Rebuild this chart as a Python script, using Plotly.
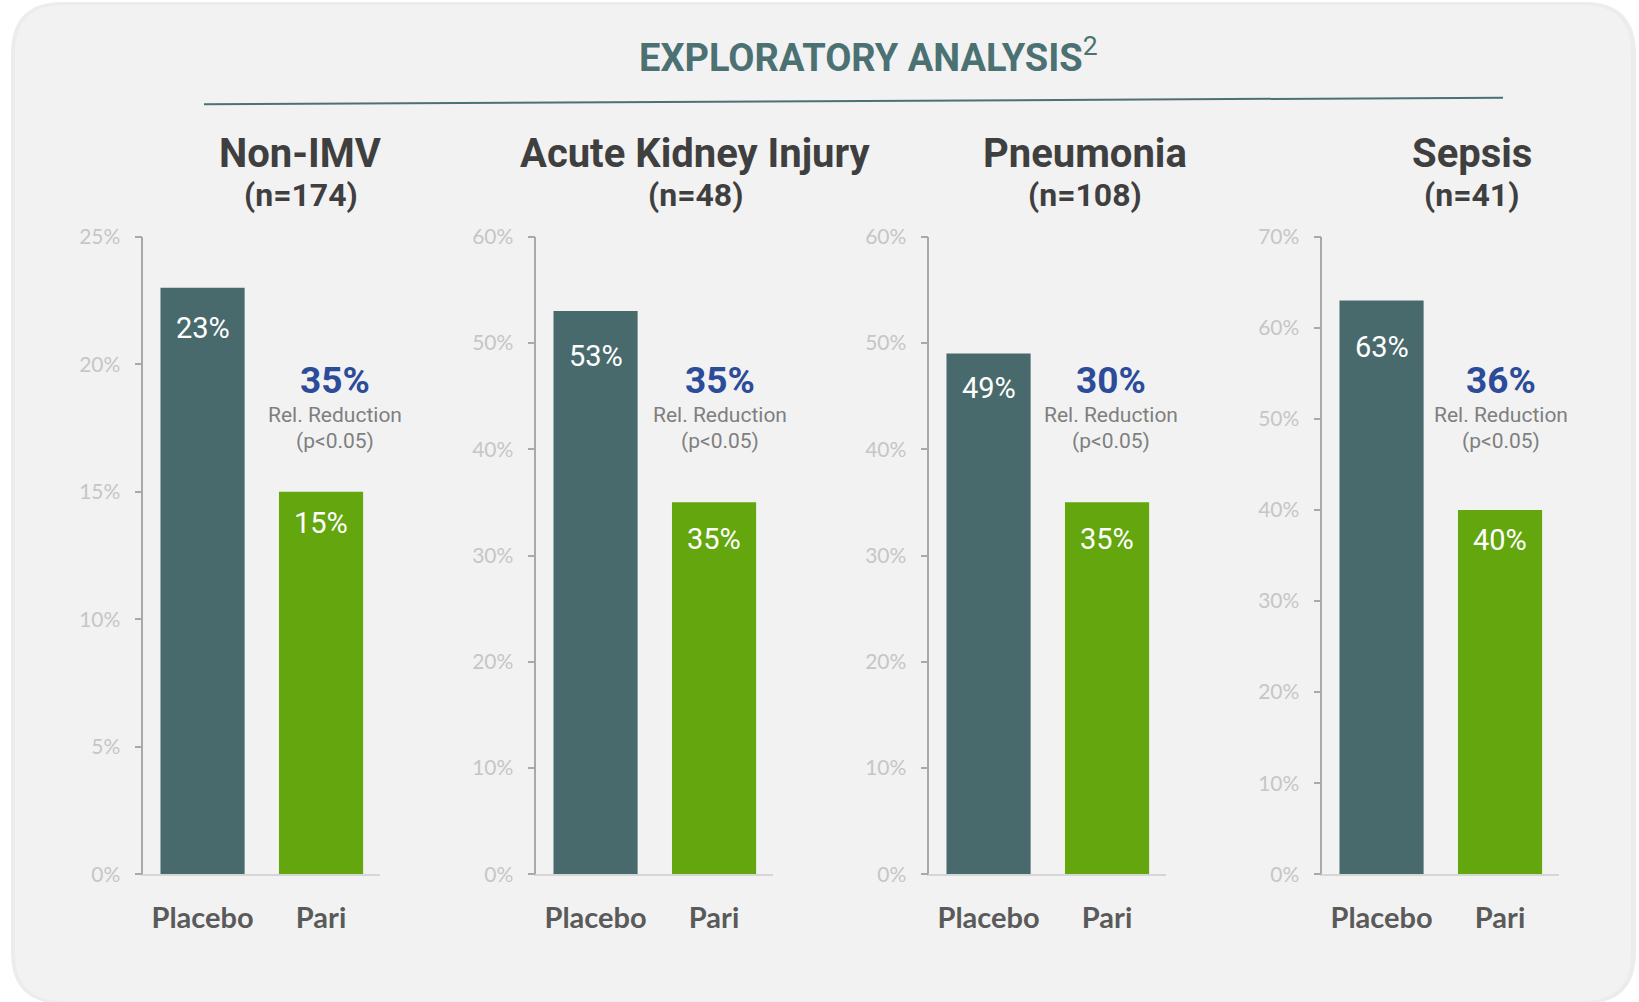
import plotly.graph_objects as go

# ---------------- data ----------------
panels = ["Non-IMV", "Acute Kidney Injury", "Pneumonia", "Sepsis"]
n_sizes = [174, 48, 108, 41]
arms = ["Placebo", "Pari"]
placebo = [23, 53, 49, 63]
pari = [15, 35, 35, 40]
rel_reduction = [35, 35, 30, 36]
y_max = [25, 60, 60, 70]
y_step = [5, 10, 10, 10]
header = "EXPLORATORY ANALYSIS"

# ---------------- style ----------------
W, H = 1639, 1002
C_PLACEBO = "#496a6c"
C_PARI = "#63a60d"
C_BLUE = "#2c4b99"
C_TEAL = "#4b7173"
C_TITLE = "#3f3f3f"
C_TICK = "#c6c6c6"
C_CAT = "#5a5a5a"
BG = "#f2f2f2"

title_dx = [39, 41, 37, 31]          # px offset of panel titles from panel centre
callout_dx = [14, 6, 4, 1]           # px offset of relative-reduction callout
placebo_label_dy = [-40, -45, -34, -47]
pari_label_dy = [-31, -37, -37, -30]


def px(x):
    return x / W


def py(y):
    return 1 - y / H


axis_x0 = 143.3
panel_step = 393.0
panel_w = 237.0
y_top, y_bot = 236.7, 874.3

fig = go.Figure()
annotations = []
shapes = []


def rrect(x0, y0, x1, y1, r):
    X0, X1 = px(x0), px(x1)
    Y0, Y1 = py(y0), py(y1)
    rx, ry = r / W, r / H
    return (f"M {X0+rx},{Y0} L {X1-rx},{Y0} Q {X1},{Y0} {X1},{Y0-ry} "
            f"L {X1},{Y1+ry} Q {X1},{Y1} {X1-rx},{Y1} L {X0+rx},{Y1} "
            f"Q {X0},{Y1} {X0},{Y1+ry} L {X0},{Y0-ry} Q {X0},{Y0} {X0+rx},{Y0} Z")


# background rounded panel (with faint shadow)
shapes.append(dict(type="path", xref="paper", yref="paper", layer="below",
                   path=rrect(11, 2, 1636, 1004, 52), fillcolor="#ececec", line_width=0))
shapes.append(dict(type="path", xref="paper", yref="paper", layer="below",
                   path=rrect(15, 5, 1631, 1001, 48), fillcolor=BG, line_width=0))

# header line (slightly slanted as in the reference)
shapes.append(dict(type="line", xref="paper", yref="paper",
                   x0=px(204), y0=py(104.3), x1=px(1503), y1=py(97.7),
                   line=dict(color=C_TEAL, width=2)))

annotations.append(dict(xref="paper", yref="paper", x=px(868), y=py(55),
                        text=f"<b>{header}</b><sup>2</sup>", showarrow=False,
                        xanchor="center", yanchor="middle",
                        font=dict(family="Roboto", size=38, color=C_TEAL)))

for i in range(4):
    k = "" if i == 0 else str(i + 1)
    xa, ya = "x" + k, "y" + k
    x0 = axis_x0 + panel_step * i
    dom = [px(x0), px(x0 + panel_w)]

    fig.add_trace(go.Bar(x=[0, 1], y=[placebo[i], pari[i]],
                         marker=dict(color=[C_PLACEBO, C_PARI], line_width=0),
                         width=0.71, xaxis=xa, yaxis=ya, hoverinfo="skip",
                         showlegend=False))

    fig.layout["xaxis" + k] = dict(
        domain=dom, range=[-0.5, 1.5], anchor=ya, automargin=False,
        tickmode="array", tickvals=[0, 1], ticktext=[f"<b>{a}</b>" for a in arms],
        ticks="", showline=True, linecolor="#d6d6d6", linewidth=2,
        showgrid=False, zeroline=False, ticklabelstandoff=17,
        tickfont=dict(family="Lato", size=29, color=C_CAT), fixedrange=True)
    fig.layout["yaxis" + k] = dict(
        domain=[py(y_bot), py(y_top)], range=[0, y_max[i]], anchor=xa,
        automargin=False,
        tickmode="linear", tick0=0, dtick=y_step[i], ticksuffix="%",
        ticks="outside", ticklen=7, tickwidth=1.5, tickcolor="#a9a9a9",
        showline=True, linecolor="#a9a9a9", linewidth=1.5,
        showgrid=False, zeroline=False, ticklabelstandoff=10,
        tickfont=dict(family="Lato", size=21, color=C_TICK), fixedrange=True)

    # panel titles
    cx = x0 + panel_w / 2 + title_dx[i]
    annotations.append(dict(xref="paper", yref="paper", x=px(cx), y=py(153),
                            text=f"<b>{panels[i]}</b>", showarrow=False,
                            xanchor="center", yanchor="middle",
                            font=dict(family="Roboto", size=40, color=C_TITLE)))
    annotations.append(dict(xref="paper", yref="paper", x=px(cx), y=py(195),
                            text=f"<b>(n={n_sizes[i]})</b>", showarrow=False,
                            xanchor="center", yanchor="middle",
                            font=dict(family="Roboto", size=32, color=C_TITLE)))

    # value labels inside bars
    for xi, (v, shift) in enumerate([(placebo[i], placebo_label_dy[i]),
                                     (pari[i], pari_label_dy[i])]):
        annotations.append(dict(xref=xa, yref=ya, x=xi, y=v, yshift=shift,
                                text=f"{v}%", showarrow=False,
                                xanchor="center", yanchor="middle",
                                font=dict(family="Roboto", size=29, color="white")))

    # relative reduction callout
    for text, yy, size, color in [(f"<b>{rel_reduction[i]}%</b>", 381, 37, C_BLUE),
                                  ("Rel. Reduction", 415, 21, "#7f7f7f"),
                                  ("(p<0.05)", 441, 21, "#7f7f7f")]:
        annotations.append(dict(xref=xa, yref="paper", x=1, xshift=callout_dx[i],
                                y=py(yy), text=text, showarrow=False,
                                xanchor="center", yanchor="middle",
                                font=dict(family="Roboto", size=size, color=color)))

fig.update_layout(width=W, height=H, margin=dict(l=0, r=0, t=0, b=0, pad=0, autoexpand=False),
                  paper_bgcolor="white", plot_bgcolor="rgba(0,0,0,0)",
                  shapes=shapes, annotations=annotations, bargap=0.29,
                  font=dict(family="Roboto"))

fig.write_html("out.html", config={"displayModeBar": False},
               post_script="document.body.style.margin='0';document.body.style.overflow='hidden';")
